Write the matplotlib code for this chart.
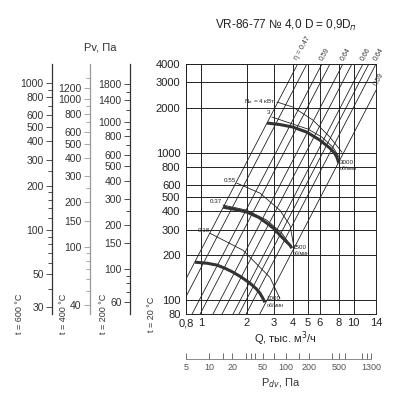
import numpy as np
import matplotlib
matplotlib.use("Agg")
import matplotlib.pyplot as plt
from matplotlib.ticker import FixedLocator, NullFormatter

plt.rcParams['font.family'] = ['Liberation Sans', 'DejaVu Sans']

W, H = 394, 399
# main plot box in pixels (left, right, top, bottom)
X0, X1, Y0, Y1 = 186, 376, 64, 314

# --- data ---
q_ticks = [0.8, 1, 2, 3, 4, 5, 6, 8, 10, 14]
q_labels = ['0,8', '1', '2', '3', '4', '5', '6', '8', '10', '14']
p_ticks = [80, 100, 200, 300, 400, 500, 600, 800, 1000, 2000, 3000, 4000]

rpm3000_q = [2.71, 3.3, 4.0, 4.94, 6.01, 6.99, 7.5, 7.76, 8.0]
rpm3000_p = [1588, 1550, 1491, 1377, 1216, 1073, 990, 932, 848]
rpm1500_q = [1.40, 1.7, 2.0, 2.4, 2.71, 3.0, 3.29, 3.6, 3.83, 3.94]
rpm1500_p = [426, 410, 394, 362, 331, 305, 275, 250, 235, 224]
rpm1000_q = [0.916, 1.1, 1.276, 1.45, 1.623, 1.85, 2.097, 2.3, 2.437, 2.55, 2.627]
rpm1000_p = [180, 177, 172, 163, 154, 142, 129.5, 119, 110.7, 102, 96]

# motor power curves
n4_q = [3.15, 4.0, 5.41, 6.99, 8.37]
n4_p = [2206, 2040, 1664, 1275, 1008]
n3_q = [2.92, 4.0, 5.02, 6.19, 7.31, 8.12]
n3_p = [1744, 1563, 1445, 1275, 1090, 917]
n055_q = [1.72, 2.44, 3.29, 3.83, 4.06]
n055_p = [620, 530, 406, 321, 231]
n037_q = [1.40, 2.0, 2.71, 3.39, 3.94]
n037_p = [440, 406, 347, 283, 228]
n018_q = [1.148, 1.886, 2.832, 3.29]
n018_p = [283, 217, 142, 102]

# diagonal (P ~ Q^2) lines, given by Q at P = 1000
eta_q1000 = [2.15, 3.1, 4.25, 5.75, 7.0, 8.6]
eta_labels = ['η = 0,47', '0,59', '0,64', '0,66', '0,64', '0,59']
extra_q1000 = [2.47, 3.5, 4.87, 6.28]

# left pressure scales for hot air
temps = [600, 400, 200]
temp_x = [52, 90, 130]
temp_major = {
    600: [30, 50, 100, 200, 300, 400, 500, 600, 800, 1000],
    400: [40, 100, 150, 200, 300, 400, 500, 600, 800, 1000, 1200],
    200: [60, 100, 150, 200, 300, 400, 500, 600, 800, 1000, 1400, 1800],
}
temp_minor = {
    600: [40, 60, 70, 80, 90, 120, 140, 160, 180, 250, 700, 900],
    400: [50, 60, 70, 80, 90, 250, 700, 900, 1400],
    200: [70, 80, 90, 250, 700, 900, 1200, 1600],
}

pdv_ticks = [5, 10, 20, 50, 100, 200, 500, 1300]
pdv_minor = [15, 30, 35, 40, 70, 150, 400, 600, 1000, 1150]
pdv_k = 7.72  # Pdv = k * Q^2 (Q in thousand m3/h)

fig = plt.figure(figsize=(W / 100, H / 100), dpi=100)


def box(x0, x1, y0, y1):
    return [x0 / W, 1 - y1 / H, (x1 - x0) / W, (y1 - y0) / H]


ax = fig.add_axes(box(X0, X1, Y0, Y1))
ax.set_xscale('log')
ax.set_yscale('log')
ax.set_xlim(0.8, 14)
ax.set_ylim(80, 4000)
ax.xaxis.set_major_locator(FixedLocator(q_ticks))
ax.xaxis.set_minor_locator(FixedLocator([]))
ax.set_xticklabels(q_labels)
ax.yaxis.set_major_locator(FixedLocator(p_ticks))
ax.yaxis.set_minor_locator(FixedLocator([]))
ax.set_yticklabels([str(v) for v in p_ticks])
ax.tick_params(axis='x', length=0, pad=3, labelsize=8, labelcolor='#222222')
ax.tick_params(axis='y', length=0, pad=4, labelsize=8, labelcolor='#222222')
ax.grid(True, color='#222222', lw=0.7)
for s in ax.spines.values():
    s.set_color('#222222')
    s.set_linewidth(0.7)

# diagonal lines
pp = np.array([30.0, 20000.0])
for q1 in eta_q1000 + extra_q1000:
    ax.plot(q1 * np.sqrt(pp / 1000), pp, color='#222222', lw=0.6, clip_on=True)

# efficiency labels at the frame edge
for q1, lab in zip(eta_q1000, eta_labels):
    qt = q1 * np.sqrt(4000 / 1000)
    if qt <= 14:
        ax.text(qt * 1.02, 4000 * 1.04, lab, rotation=60, rotation_mode='anchor',
                ha='left', va='bottom', fontsize=5, color='#333333', clip_on=False)
    else:
        pe = 1000 * (14 / q1) ** 2
        ax.text(14 * 1.02, pe * 1.06, lab, rotation=60, rotation_mode='anchor',
                ha='left', va='bottom', fontsize=5, color='#333333', clip_on=False)

# power curves (thin)
for qs, ps in [(n4_q, n4_p), (n3_q, n3_p), (n055_q, n055_p), (n037_q, n037_p), (n018_q, n018_p)]:
    ax.plot(qs, ps, color='#222222', lw=0.6)

# fan curves (thick)
for qs, ps in [(rpm3000_q, rpm3000_p), (rpm1500_q, rpm1500_p), (rpm1000_q, rpm1000_p)]:
    ax.plot(qs, ps, color='#333333', lw=2.2, solid_capstyle='butt')

small = dict(fontsize=4.5, color='#222222')
ax.text(3.05, 2206, 'N$_в$ = 4 кВт', ha='right', va='center', **small)
ax.text(2.85, 1800, '3', ha='right', va='bottom', **small)
ax.text(1.70, 625, '0.55', ha='right', va='bottom', **small)
ax.text(1.38, 445, '0.37', ha='right', va='bottom', **small)
ax.text(1.14, 285, '0.18', ha='right', va='bottom', **small)
ax.text(8.15, 850, '3000', ha='left', va='center', **small)
ax.text(8.15, 780, 'об/мин', ha='left', va='center', fontsize=3.8, color='#222222')
ax.text(4.0, 226, '1500', ha='left', va='center', **small)
ax.text(4.0, 205, 'об/мин', ha='left', va='center', fontsize=3.8, color='#222222')
ax.text(2.70, 102, '1000', ha='left', va='center', **small)
ax.text(2.70, 92, 'об/мин', ha='left', va='center', fontsize=3.8, color='#222222')

# left temperature scales
for t, xp in zip(temps, temp_x):
    f = (273 + 20) / (273 + t)
    a = fig.add_axes(box(xp, xp + 1, Y0, Y1))
    a.set_yscale('log')
    a.set_ylim(80 * f, 4000 * f)
    a.set_xticks([])
    for side in ['right', 'top', 'bottom']:
        a.spines[side].set_visible(False)
    col = '#999999' if t == 400 else '#333333'
    a.spines['left'].set_color(col)
    a.spines['left'].set_linewidth(0.9)
    a.yaxis.set_major_locator(FixedLocator(temp_major[t]))
    a.yaxis.set_minor_locator(FixedLocator(temp_minor[t]))
    a.yaxis.set_minor_formatter(NullFormatter())
    a.set_yticklabels([str(v) for v in temp_major[t]])
    a.tick_params(axis='y', which='major', length=4, width=0.6, color=col, pad=2,
                  labelsize=7.5, labelcolor='#333333')
    a.tick_params(axis='y', which='minor', length=3, width=0.6, color=col)
    a.patch.set_visible(False)

fig.text(100 / W, 1 - 47 / H, 'Pv, Па', ha='center', va='center', fontsize=8, color='#333333')
for lab, xp in [('t = 600 °C', 20), ('t = 400 °C', 63), ('t = 200 °C', 103), ('t = 20 °C', 151)]:
    fig.text(xp / W, 1 - 314 / H, lab, rotation=90, ha='center', va='center',
             fontsize=6.5, color='#333333')

fig.text(286 / W, 1 - 25 / H, 'VR-86-77 № 4,0 D = 0,9D$_п$', ha='center', va='center',
         fontsize=8.5, color='#222222')
fig.text(285 / W, 1 - 339 / H, 'Q, тыс. м$^3$/ч', ha='center', va='center',
         fontsize=8, color='#222222')

# dynamic pressure scale
ad = fig.add_axes(box(X0, X1, 300, 359))
ad.set_xscale('log')
ad.set_xlim(0.8, 14)
ad.set_yticks([])
ad.patch.set_visible(False)
for side in ['left', 'right', 'top']:
    ad.spines[side].set_visible(False)
qd = lambda v: np.sqrt(np.array(v, dtype=float) / pdv_k)
ad.spines['bottom'].set_bounds(qd(5), qd(1300))
ad.spines['bottom'].set_color('#777777')
ad.spines['bottom'].set_linewidth(0.6)
ad.xaxis.set_major_locator(FixedLocator(qd(pdv_ticks)))
ad.xaxis.set_minor_locator(FixedLocator(qd(pdv_minor)))
ad.xaxis.set_minor_formatter(NullFormatter())
ad.set_xticklabels([str(v) for v in pdv_ticks])
ad.tick_params(axis='x', which='both', direction='in', length=4, width=0.6,
               color='#555555', pad=3, labelsize=6.5, labelcolor='#555555')
fig.text(281 / W, 1 - 383 / H, 'P$_{dv}$, Па', ha='center', va='center',
         fontsize=8, color='#333333')

fig.savefig('out.png', dpi=100)
